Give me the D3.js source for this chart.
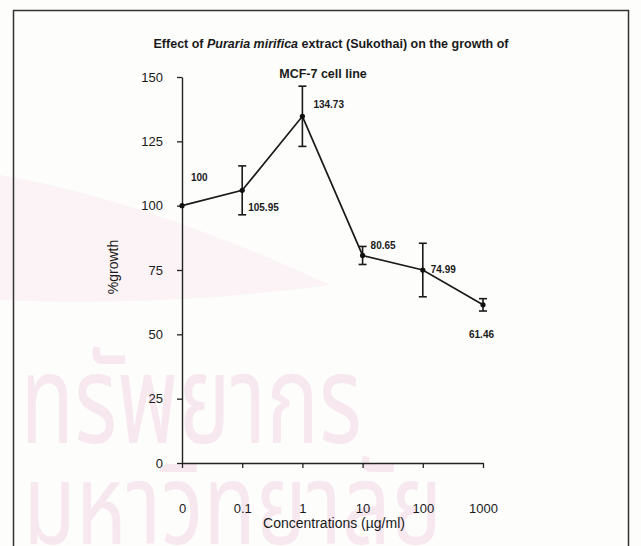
<!DOCTYPE html>
<html>
<head>
<meta charset="utf-8">
<script src="https://cdn.jsdelivr.net/npm/d3@7"></script>
<style>
  html, body { margin: 0; padding: 0; background: #fdfdfc; }
  svg { display: block; }
  text { font-family: "Liberation Sans", Arial, sans-serif; fill: #1a1a1a; }
</style>
</head>
<body>
<svg id="chart" width="641" height="546"></svg>
<script>
// Concentrations of extract tested (µg/ml)
const concentrations = ["0", "0.1", "1", "10", "100", "1000"];
// Mean % growth of MCF-7 cells at each concentration
const growth = [100, 105.95, 134.73, 80.65, 74.99, 61.46];
// Standard deviation of % growth (control has none)
const growthSD = [0, 9.5, 11.7, 3.5, 10.4, 2.4];
// Y axis ticks
const yTicks = [0, 25, 50, 75, 100, 125, 150];

const svg = d3.select("#chart");

// Faint background lettering of the page
const wm = svg.append("g").attr("class", "watermark");
wm.append("path")
  .attr("d", "M0,175 C90,190 200,225 330,285 C220,300 110,305 0,300 Z")
  .attr("fill", "#fbf3f6");
wm.append("text")
  .attr("transform", "translate(362,443) scale(1,1.4)")
  .attr("text-anchor", "end")
  .style("font-family", "'Noto Sans Thai', 'Noto Sans', sans-serif")
  .style("font-size", "88px").style("fill", "#f7e8ef").text("ทรัพยากร");
wm.append("text")
  .attr("transform", "translate(442,544) scale(1,1.3)")
  .attr("text-anchor", "end")
  .style("font-family", "'Noto Sans Thai', 'Noto Sans', sans-serif")
  .style("font-size", "86px").style("fill", "#f7e8ef").text("มหาวิทยาลัย");

// Outer frame
svg.append("rect")
  .attr("x", 13.5).attr("y", 10.5).attr("width", 615).attr("height", 560)
  .attr("fill", "none").attr("stroke", "#333").attr("stroke-width", 1.5);

const x = d3.scalePoint().domain(concentrations).range([182, 483]);
const y = d3.scaleLinear().domain([0, 150]).range([463, 77]);

// Y axis
const yAxis = svg.append("g")
  .attr("transform", "translate(182,0)")
  .call(d3.axisLeft(y).tickValues(yTicks).tickSize(5).tickSizeOuter(0).tickPadding(14));
// X axis
const xAxis = svg.append("g")
  .attr("transform", "translate(0,463)")
  .call(d3.axisBottom(x).tickSize(5).tickSizeOuter(0).tickPadding(36));

[yAxis, xAxis].forEach(g => {
  g.selectAll("path.domain").attr("stroke", "#222").attr("stroke-width", 1.4);
  g.selectAll(".tick line").attr("stroke", "#222").attr("stroke-width", 1.3);
  g.selectAll(".tick text").style("font-size", "13px").attr("fill", "#1a1a1a")
    .style("font-family", "'Liberation Sans', Arial, sans-serif");
});

// Axis titles
svg.append("text")
  .attr("transform", "translate(118,267) rotate(-90)")
  .attr("text-anchor", "middle").style("font-size", "14px").text("%growth");
svg.append("text")
  .attr("x", 334).attr("y", 528).attr("text-anchor", "middle")
  .style("font-size", "14px").text("Concentrations (µg/ml)");

// Chart title
const t1 = svg.append("text").attr("x", 331).attr("y", 48).attr("text-anchor", "middle")
  .style("font-size", "12.5px").style("font-weight", "bold");
t1.append("tspan").text("Effect of ");
t1.append("tspan").style("font-style", "italic").text("Puraria mirifica");
t1.append("tspan").text("  extract (Sukothai) on the growth of");
svg.append("text").attr("x", 323).attr("y", 78).attr("text-anchor", "middle")
  .style("font-size", "12.5px").style("font-weight", "bold").text("MCF-7 cell line");

const pts = concentrations.map((c, i) => ({ c, v: growth[i], sd: growthSD[i] }));

// Connecting line
svg.append("path")
  .datum(pts)
  .attr("fill", "none").attr("stroke", "#1a1a1a").attr("stroke-width", 1.7)
  .attr("d", d3.line().x(d => x(d.c)).y(d => y(d.v)));

// Error bars
const eb = svg.append("g").selectAll("g").data(pts.filter(d => d.sd > 0)).join("g")
  .attr("stroke", "#1a1a1a").attr("stroke-width", 1.6);
eb.append("line")
  .attr("x1", d => x(d.c)).attr("x2", d => x(d.c))
  .attr("y1", d => y(d.v + d.sd)).attr("y2", d => y(d.v - d.sd));
eb.append("line")
  .attr("x1", d => x(d.c) - 4).attr("x2", d => x(d.c) + 4)
  .attr("y1", d => y(d.v + d.sd)).attr("y2", d => y(d.v + d.sd));
eb.append("line")
  .attr("x1", d => x(d.c) - 4).attr("x2", d => x(d.c) + 4)
  .attr("y1", d => y(d.v - d.sd)).attr("y2", d => y(d.v - d.sd));

// Markers
svg.append("g").selectAll("circle").data(pts).join("circle")
  .attr("cx", d => x(d.c)).attr("cy", d => y(d.v)).attr("r", 2.6)
  .attr("fill", "#111");

// Value labels, nudged away from the line
const nudge = [[9, -25], [6, 21], [11, -8], [8, -6], [8, 3], [-14, 33]];
svg.append("g").selectAll("text").data(pts).join("text")
  .attr("x", (d, i) => x(d.c) + nudge[i][0])
  .attr("y", (d, i) => y(d.v) + nudge[i][1])
  .style("font-size", "10px").style("font-weight", "bold")
  .text(d => d.v);
</script>
</body>
</html>
